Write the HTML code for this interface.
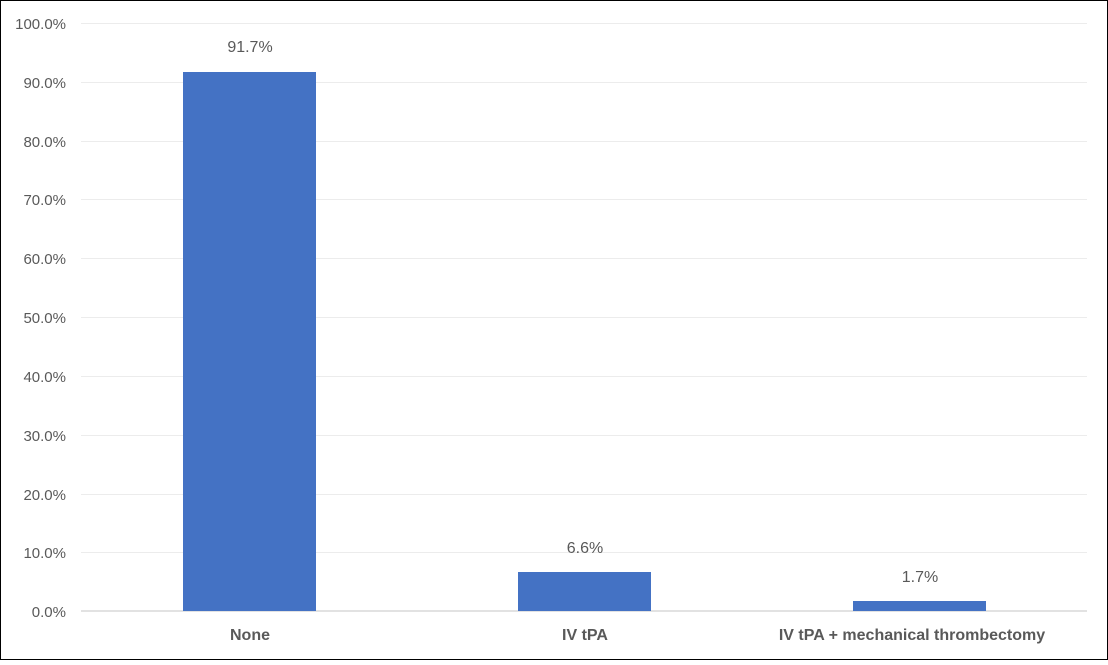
<!DOCTYPE html>
<html><head><style>
body{margin:0;background:#fff;}
svg text{font-family:"Liberation Sans",sans-serif;fill:#595959;}
</style></head><body>
<svg width="1108" height="660" xmlns="http://www.w3.org/2000/svg">
<rect x="0.5" y="0.5" width="1107" height="659" fill="#fff" stroke="#000" stroke-width="1"/>
<g stroke="#ececec" stroke-width="1">
<line x1="81" x2="1087" y1="23.5" y2="23.5"/>
<line x1="81" x2="1087" y1="82.5" y2="82.5"/>
<line x1="81" x2="1087" y1="141.5" y2="141.5"/>
<line x1="81" x2="1087" y1="199.5" y2="199.5"/>
<line x1="81" x2="1087" y1="258.5" y2="258.5"/>
<line x1="81" x2="1087" y1="317.5" y2="317.5"/>
<line x1="81" x2="1087" y1="376.5" y2="376.5"/>
<line x1="81" x2="1087" y1="435.5" y2="435.5"/>
<line x1="81" x2="1087" y1="494.5" y2="494.5"/>
<line x1="81" x2="1087" y1="552.5" y2="552.5"/>
</g>
<line x1="81" x2="1087" y1="611" y2="611" stroke="#d9d9d9" stroke-width="1.5"/>
<g font-size="15" text-anchor="end">
<text x="66" y="29">100.0%</text>
<text x="66" y="88">90.0%</text>
<text x="66" y="147">80.0%</text>
<text x="66" y="205">70.0%</text>
<text x="66" y="264">60.0%</text>
<text x="66" y="323">50.0%</text>
<text x="66" y="382">40.0%</text>
<text x="66" y="441">30.0%</text>
<text x="66" y="500">20.0%</text>
<text x="66" y="558">10.0%</text>
<text x="66" y="617">0.0%</text>
</g>
<g fill="#4472c4">
<rect x="183" y="72" width="133" height="539"/>
<rect x="518" y="572" width="133" height="39"/>
<rect x="853" y="601" width="133" height="10"/>
</g>
<g font-size="16" text-anchor="middle">
<text x="250" y="52">91.7%</text>
<text x="585" y="553">6.6%</text>
<text x="920" y="582">1.7%</text>
</g>
<g font-size="16" font-weight="bold" text-anchor="middle">
<text x="250" y="640">None</text>
<text x="585" y="640">IV tPA</text>
<text x="912" y="640">IV tPA + mechanical thrombectomy</text>
</g>
</svg>
</body></html>
